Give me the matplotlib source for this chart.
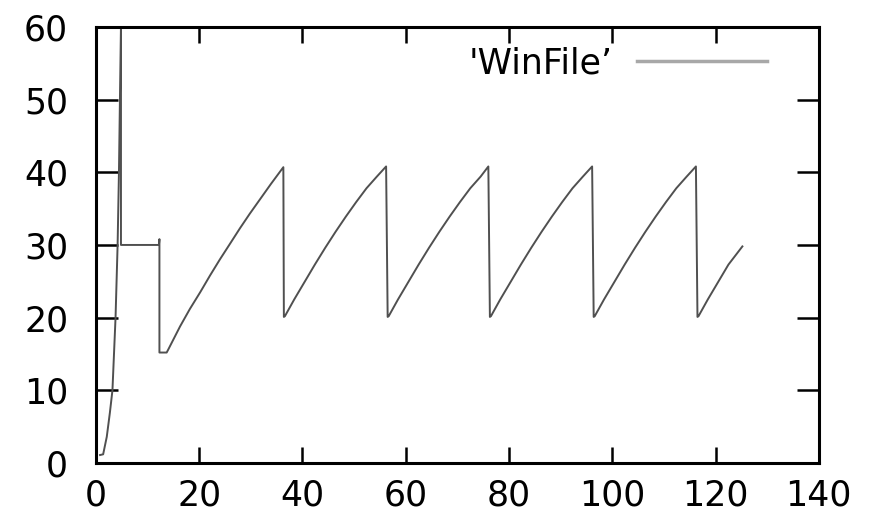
import matplotlib
matplotlib.use("Agg")
import matplotlib.pyplot as plt
from matplotlib.lines import Line2D

# valores (ventana de congestion)
tiempo = [0.8, 1.4, 2.1, 2.7, 3.2, 3.8, 4.2, 4.46, 4.65, 4.85, 4.85,
          12.2, 12.3, 12.3, 13.7,
          14.0, 16.3, 18.2, 20.2, 22.1, 24.0, 26.0, 27.9, 29.8, 31.8, 33.9, 36.3, 36.4,
          36.6, 38.4, 40.4, 42.4, 44.4, 46.4, 48.4, 50.4, 52.4, 54.4, 56.2, 56.5,
          56.7, 58.5, 60.5, 62.5, 64.5, 66.5, 68.5, 70.5, 72.5, 74.5, 76.0, 76.3,
          76.5, 78.3, 80.3, 82.3, 84.3, 86.3, 88.3, 90.3, 92.3, 94.3, 96.1, 96.4,
          96.6, 98.4, 100.4, 102.4, 104.4, 106.4, 108.4, 110.4, 112.4, 114.4, 116.2, 116.5,
          116.7, 118.5, 120.5, 122.5, 125.2]
ventana = [1.1, 1.2, 3.6, 6.9, 10.0, 20.0, 30.0, 40.0, 50.0, 60.0, 30.0,
           30.0, 30.8, 15.2, 15.2,
           15.6, 18.8, 21.2, 23.5, 25.8, 28.0, 30.2, 32.3, 34.3, 36.3, 38.4, 40.7, 20.1,
           20.2, 22.5, 24.9, 27.3, 29.6, 31.8, 33.9, 35.9, 37.8, 39.4, 40.8, 20.1,
           20.2, 22.5, 24.9, 27.3, 29.6, 31.8, 33.9, 35.9, 37.8, 39.4, 40.8, 20.1,
           20.2, 22.5, 24.9, 27.3, 29.6, 31.8, 33.9, 35.9, 37.8, 39.4, 40.8, 20.1,
           20.2, 22.5, 24.9, 27.3, 29.6, 31.8, 33.9, 35.9, 37.8, 39.4, 40.8, 20.1,
           20.2, 22.5, 24.9, 27.3, 29.8]
xticks = [0, 20, 40, 60, 80, 100, 120, 140]
yticks = [0, 10, 20, 30, 40, 50, 60]
etiqueta = "'WinFile\u2019"

plt.rcParams['font.family'] = ['DejaVu Sans']

fig = plt.figure(figsize=(8.72, 5.17), dpi=100)
ax = fig.add_axes([0.110, 0.1044, 0.829, 0.8436])

ax.plot(tiempo, ventana, color='#505050', lw=1.4)

ax.set_xlim(0, 140)
ax.set_ylim(0, 60)
ax.set_xticks(xticks)
ax.set_yticks(yticks)

for s in ax.spines.values():
    s.set_linewidth(2.2)

ax.tick_params(axis='x', direction='in', length=11.5, width=1.8, labelsize=25,
               pad=11, top=True)
ax.tick_params(axis='y', direction='in', length=16, width=1.8, labelsize=25,
               pad=20, right=True)

handle = Line2D([], [], color='#a8a8a8', lw=2.5)
ax.legend([handle], [etiqueta], loc='upper right', bbox_to_anchor=(0.929, 0.955),
          frameon=False, markerfirst=False, fontsize=25, handlelength=3.75,
          handletextpad=0.7, borderpad=0, borderaxespad=0)

fig.savefig('out.png', dpi=100)
